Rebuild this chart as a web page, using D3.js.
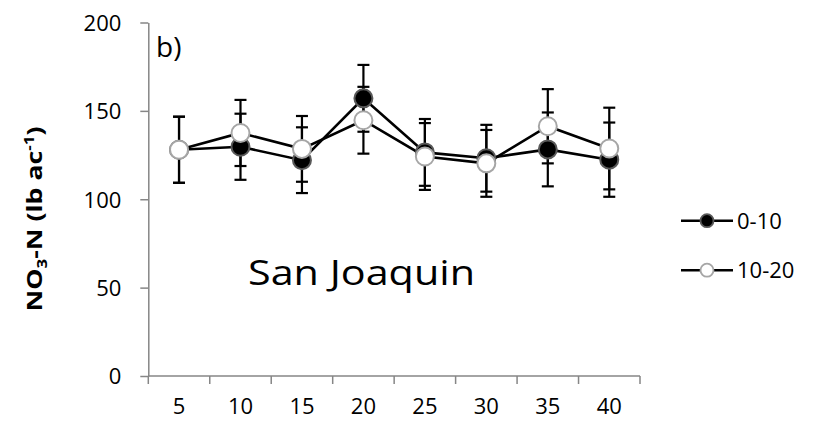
<!DOCTYPE html>
<html>
<head>
<meta charset="utf-8">
<script src="https://cdn.jsdelivr.net/npm/d3@7"></script>
<style>
  html, body { margin: 0; padding: 0; background: #fff; }
  svg { display: block; }
  text { font-family: "Open Sans", "Liberation Sans", sans-serif; fill: #000; }
</style>
</head>
<body>
<div id="chart"></div>
<script>
// depth (cm) along the x axis
const depths = ['5', '10', '15', '20', '25', '30', '35', '40'];
const yTicks = [0, 50, 100, 150, 200];

// NO3-N, lb/ac, with +/- error
const shallow = [128, 129.7, 122.1, 157.1, 126.5, 123.2, 128.2, 122.4];      // 0-10
const shallowErr = [18.7, 18.7, 18.6, 18.9, 18.9, 18.9, 20.9, 21];
const deep = [128, 137.5, 128.5, 144.7, 124.2, 120.3, 141.3, 128.7];         // 10-20
const deepErr = [18.7, 18.7, 18.6, 18.9, 18.9, 18.9, 21, 23.1];

const seriesNames = ['0-10', '10-20'];

const W = 813, H = 424;
const axisColor = '#868686';

const svg = d3.select('#chart').append('svg')
  .attr('width', W).attr('height', H);

const x = d3.scaleBand().domain(depths).range([148.3, 640]).paddingInner(0).paddingOuter(0);
const y = d3.scaleLinear().domain([0, 200]).range([376, 22.5]);
const cx = d => x(d) + x.bandwidth() / 2;

// y axis
const yAxis = svg.append('g').attr('transform', `translate(${x.range()[0]},0)`)
  .call(d3.axisLeft(y).tickValues(yTicks).tickSize(8).tickSizeOuter(0).tickPadding(19));
yAxis.select('.domain').attr('stroke', axisColor).attr('stroke-width', 1.5);
yAxis.selectAll('.tick line').attr('stroke', axisColor).attr('stroke-width', 1.5);
yAxis.selectAll('.tick text')
  .style('font-family', '"Open Sans", sans-serif')
  .attr('font-size', 22).attr('fill', '#000').attr('dy', '0.36em');

// x axis: labels centred in bands, ticks on band edges
const xAxis = svg.append('g').attr('transform', `translate(0,${y(0)})`)
  .call(d3.axisBottom(x).tickSize(0).tickPadding(22));
xAxis.select('.domain').remove();
xAxis.selectAll('.tick text')
  .style('font-family', '"Open Sans", sans-serif')
  .attr('font-size', 22).attr('fill', '#000');
xAxis.append('line')
  .attr('x1', x.range()[0]).attr('x2', x.range()[1])
  .attr('stroke', axisColor).attr('stroke-width', 1.5);
const edges = depths.map(d => x(d)).concat([x.range()[1]]);
xAxis.selectAll('.edge').data(edges).join('line')
  .attr('class', 'edge')
  .attr('x1', d => d).attr('x2', d => d)
  .attr('y1', 0).attr('y2', 8)
  .attr('stroke', axisColor).attr('stroke-width', 1.5);

// y label
const ylab = svg.append('text')
  .attr('transform', 'translate(42,219) rotate(-90)')
  .attr('text-anchor', 'middle')
  .attr('font-weight', 'bold')
  .attr('font-size', 22)
  .attr('textLength', 185)
  .attr('lengthAdjust', 'spacingAndGlyphs');
ylab.append('tspan').text('NO');
ylab.append('tspan').attr('font-size', 14).attr('dy', 5).text('3');
ylab.append('tspan').attr('dy', -5).text('-N (lb ac');
ylab.append('tspan').attr('font-size', 14).attr('dy', -8).text('-1');
ylab.append('tspan').attr('dy', 8).text(')');

// panel tag and site name
svg.append('text').attr('x', 156).attr('y', 56.7).attr('font-size', 28).text('b)');
svg.append('text').attr('x', 248).attr('y', 285).attr('font-size', 35)
  .attr('textLength', 227).attr('lengthAdjust', 'spacingAndGlyphs')
  .text('San Joaquin');

const series = [
  { name: seriesNames[0], vals: shallow, err: shallowErr, fill: '#000', stroke: '#595959' },
  { name: seriesNames[1], vals: deep, err: deepErr, fill: '#fff', stroke: '#a6a6a6' }
];

// error bars
series.forEach(s => {
  const g = svg.append('g');
  depths.forEach((d, i) => {
    const px = cx(d);
    const top = y(s.vals[i] + s.err[i]);
    const bot = y(s.vals[i] - s.err[i]);
    g.append('line').attr('x1', px).attr('x2', px).attr('y1', top).attr('y2', bot)
      .attr('stroke', '#000').attr('stroke-width', 2.2);
    [top, bot].forEach(v => {
      g.append('line').attr('x1', px - 6).attr('x2', px + 6).attr('y1', v).attr('y2', v)
        .attr('stroke', '#000').attr('stroke-width', 2.2);
    });
  });
});

// lines
const line = d3.line().x((v, i) => cx(depths[i])).y(v => y(v));
series.forEach(s => {
  svg.append('path').datum(s.vals).attr('d', line)
    .attr('fill', 'none').attr('stroke', '#000').attr('stroke-width', 2.6);
});

// markers
series.forEach(s => {
  svg.append('g').selectAll('circle').data(s.vals).join('circle')
    .attr('cx', (v, i) => cx(depths[i]))
    .attr('cy', v => y(v))
    .attr('r', 9)
    .attr('fill', s.fill)
    .attr('stroke', s.stroke)
    .attr('stroke-width', 2);
});

// legend
const legend = svg.append('g');
series.forEach((s, i) => {
  const ly = 220.7 + i * 49.5;
  legend.append('line').attr('x1', 681).attr('x2', 733).attr('y1', ly).attr('y2', ly)
    .attr('stroke', '#000').attr('stroke-width', 2.6);
  legend.append('circle').attr('cx', 707).attr('cy', ly).attr('r', 6.5)
    .attr('fill', s.fill).attr('stroke', s.stroke).attr('stroke-width', 1.8);
  legend.append('text').attr('x', 737).attr('y', ly + 7.8).attr('font-size', 22).text(s.name);
});
</script>
</body>
</html>
